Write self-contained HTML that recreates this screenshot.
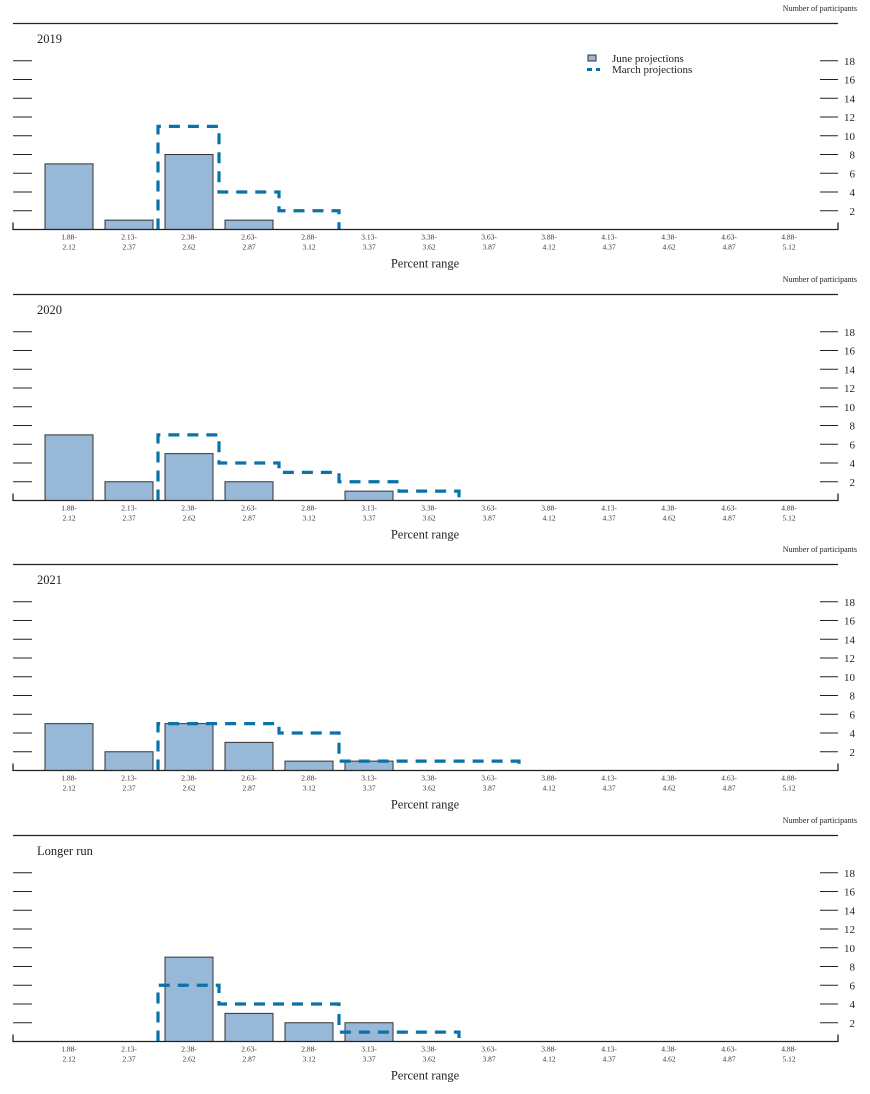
<!DOCTYPE html>
<html><head><meta charset="utf-8"><style>
html,body{margin:0;padding:0;background:#fff;}
svg{display:block;font-family:"Liberation Serif",serif;}
</style></head><body>
<svg id="chart" width="870" height="1094" xmlns="http://www.w3.org/2000/svg"></svg>
<script>
const categories = [["1.88-","2.12"],["2.13-","2.37"],["2.38-","2.62"],["2.63-","2.87"],["2.88-","3.12"],["3.13-","3.37"],["3.38-","3.62"],["3.63-","3.87"],["3.88-","4.12"],["4.13-","4.37"],["4.38-","4.62"],["4.63-","4.87"],["4.88-","5.12"]];
const panelTitles = ["2019","2020","2021","Longer run"];
const juneValues2019 = [7,1,8,1,0,0,0,0,0,0,0,0,0];
const marchValues2019 = [0,0,11,4,2,0,0,0,0,0,0,0,0];
const juneValues2020 = [7,2,5,2,0,1,0,0,0,0,0,0,0];
const marchValues2020 = [0,0,7,4,3,2,1,0,0,0,0,0,0];
const juneValues2021 = [5,2,5,3,1,1,0,0,0,0,0,0,0];
const marchValues2021 = [0,0,5,5,4,1,1,1,0,0,0,0,0];
const juneValuesLR = [0,0,9,3,2,2,0,0,0,0,0,0,0];
const marchValuesLR = [0,0,6,4,4,1,1,0,0,0,0,0,0];
const yTicks = [2,4,6,8,10,12,14,16,18];

const juneSeries = [juneValues2019,juneValues2020,juneValues2021,juneValuesLR];
const marchSeries = [marchValues2019,marchValues2020,marchValues2021,marchValuesLR];
const svg = document.getElementById('chart');
const NS = "http://www.w3.org/2000/svg";
function mk(tag, attrs, parent){const e=document.createElementNS(NS,tag);for(const k in attrs)e.setAttribute(k,attrs[k]);(parent||svg).appendChild(e);return e;}
const panelOffsets=[0,271,541,812];
const xc = i => 69 + 60*i;
const BAR_W = 48, UNIT = 9.375;

panelTitles.forEach((title,p)=>{
  const off = panelOffsets[p];
  const base = 229.5 + off;
  const y = v => base - v*UNIT;
  const g = mk('g',{});
  
  

  let t = mk('text',{x:857,y:11+off,'font-size':8,'text-anchor':'end',fill:'#222'},g);
  t.textContent='Number of participants';
  
  
  let r = mk('line',{x1:13,x2:838,y1:23.5+off,y2:23.5+off,stroke:'#222','stroke-width':1.2},g);
  
  
  t = mk('text',{x:37,y:43+off,'font-size':12.5,fill:'#222'},g);
  t.textContent=title;
  
  

  yTicks.forEach(v=>{
    const yy=y(v);
    let l=mk('line',{x1:13,x2:32,y1:yy,y2:yy,stroke:'#222','stroke-width':1},g);
    
    
    l=mk('line',{x1:820,x2:838,y1:yy,y2:yy,stroke:'#222','stroke-width':1},g);
    
    
    const tl=mk('text',{x:855,y:yy+4,'font-size':11,'text-anchor':'end',fill:'#222'},g);
    tl.textContent=v;
    
    
  });

  juneSeries[p].forEach((v,i)=>{
    if(v<=0) return;
    const b=mk('rect',{x:xc(i)-BAR_W/2,y:y(v),width:BAR_W,height:v*UNIT,fill:'#98b8d8',stroke:'#333','stroke-width':1},g);
    
    
  });

  const m = marchSeries[p];
  let d='', started=false, last=-1;
  m.forEach((v,i)=>{
    if(v<=0) return;
    const x0=xc(i)-30, x1=xc(i)+30;
    if(!started){d+=`M${x0-1},${base} L${x0-1},${y(v)} `;started=true;}
    else d+=`L${x0},${y(v)} `;
    d+=`L${x1},${y(v)} `;
    last=x1;
  });
  if(started){d+=`L${last},${base}`;
    const path=mk('path',{d:d,fill:'none',stroke:'#0a72a8','stroke-width':3.2,'stroke-dasharray':'11,8'},g);
    
    
  }

  let a=mk('path',{d:`M13,${base-7} L13,${base} L838,${base} L838,${base-7}`,fill:'none',stroke:'#222','stroke-width':1.3},g);
  
  

  categories.forEach((c,i)=>{
    const tl=mk('text',{x:xc(i),y:base+10,'font-size':7.5,'text-anchor':'middle',fill:'#333'},g);
    tl.textContent=c[0];
    
    
    const t2=mk('text',{x:xc(i),y:base+20,'font-size':7.5,'text-anchor':'middle',fill:'#333'},g);
    t2.textContent=c[1];
    
    
  });
  t=mk('text',{x:425,y:base+38,'font-size':12.5,'text-anchor':'middle',fill:'#222'},g);
  t.textContent='Percent range';
  
  
});

const lg=mk('g',{});


let e=mk('rect',{x:588,y:55,width:8,height:6,fill:'#98b8d8',stroke:'#333','stroke-width':1},lg);


e=mk('text',{x:612,y:62,'font-size':11,fill:'#222'},lg);e.textContent='June projections';


e=mk('line',{x1:587,x2:600,y1:69.5,y2:69.5,stroke:'#0a72a8','stroke-width':3,'stroke-dasharray':'5,4'},lg);


e=mk('text',{x:612,y:73,'font-size':11,fill:'#222'},lg);e.textContent='March projections';


</script>
</body></html>
